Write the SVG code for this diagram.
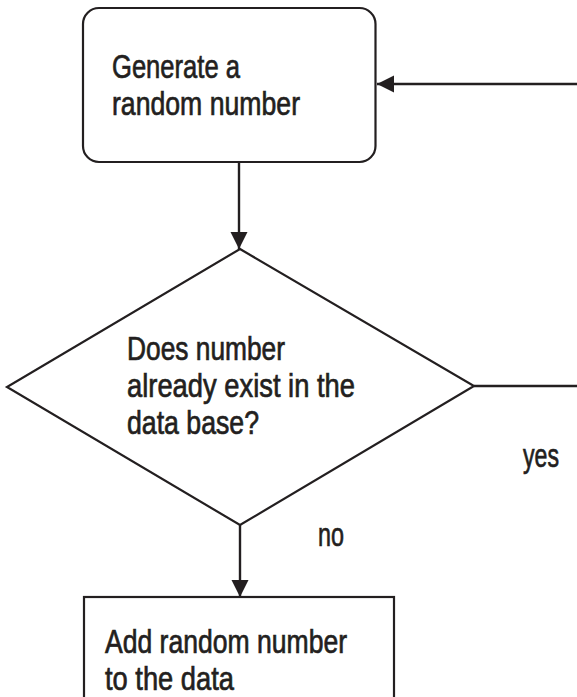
<svg xmlns="http://www.w3.org/2000/svg" width="577" height="697" viewBox="0 0 577 697">
<style>
.shape{fill:#fff;stroke:#231f20;stroke-width:2.2}
.conn{fill:none;stroke:#231f20;stroke-width:2.4}
text{font-family:"Liberation Sans","Arial",sans-serif;font-size:33px;fill:#231f20;stroke:#231f20;stroke-width:0.7}
</style>
<defs>
<marker id="arr" markerUnits="userSpaceOnUse" markerWidth="18" markerHeight="18" viewBox="0 0 18 18" refX="17" refY="9" orient="auto">
<path d="M0,0.5 L17,9 L0,17.5 Z" fill="#231f20"/>
</marker>
</defs>
<rect width="577" height="697" fill="#fff"/>
<g id="connectors">
<line class="conn" x1="239" y1="162" x2="239" y2="249" marker-end="url(#arr)"/>
<line class="conn" x1="240" y1="525" x2="240" y2="597" marker-end="url(#arr)"/>
<line class="conn" x1="474" y1="386" x2="577" y2="386"/>
<line class="conn" x1="577" y1="84" x2="377" y2="84" marker-end="url(#arr)"/>
<text x="523" y="467" textLength="36" lengthAdjust="spacingAndGlyphs">yes</text>
<text x="318" y="546" textLength="26" lengthAdjust="spacingAndGlyphs">no</text>
</g>
<g id="node-generate">
<rect class="shape" x="83" y="8" width="292.5" height="154" rx="16" ry="16"/>
<text x="112" y="78" textLength="128" lengthAdjust="spacingAndGlyphs">Generate a</text>
<text x="112" y="115" textLength="188" lengthAdjust="spacingAndGlyphs">random number</text>
</g>
<g id="node-decision">
<polygon class="shape" points="240,249 474,386 240,525 7,387"/>
<text x="127" y="360" textLength="158" lengthAdjust="spacingAndGlyphs">Does number</text>
<text x="127" y="397" textLength="228" lengthAdjust="spacingAndGlyphs">already exist in the</text>
<text x="127" y="434" textLength="132" lengthAdjust="spacingAndGlyphs">data base?</text>
</g>
<g id="node-add">
<rect class="shape" x="84" y="597" width="310" height="120"/>
<text x="105" y="653" textLength="242" lengthAdjust="spacingAndGlyphs">Add random number</text>
<text x="105" y="690" textLength="129" lengthAdjust="spacingAndGlyphs">to the data</text>
</g>
</svg>
